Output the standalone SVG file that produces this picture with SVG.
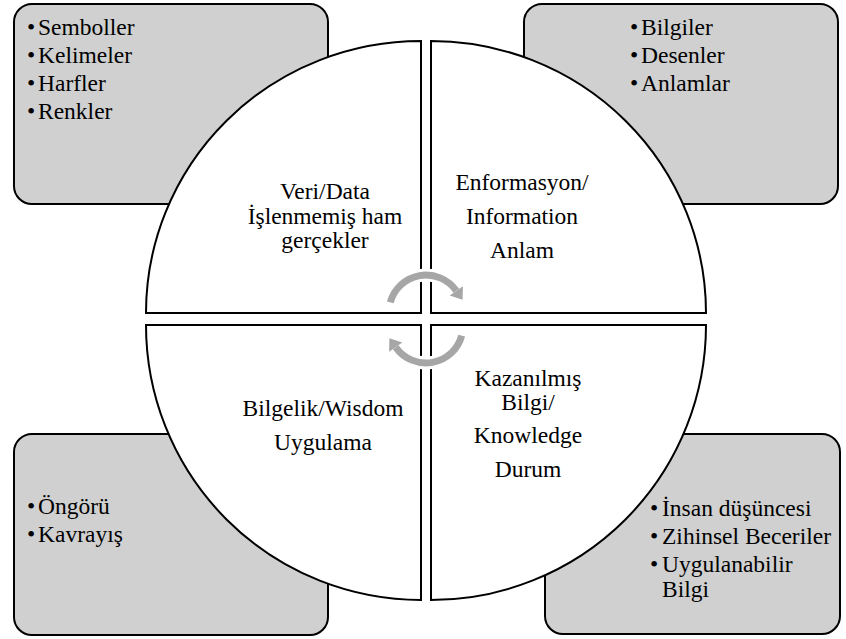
<svg xmlns="http://www.w3.org/2000/svg" width="846" height="639" viewBox="0 0 846 639" font-family="'Liberation Serif','Times New Roman',serif">
<style>
.box{fill:#d0d0d0;stroke:#000;stroke-width:2}
.quad{fill:#fff;stroke:#000;stroke-width:2}
text{font-family:"Liberation Serif","Times New Roman",serif;font-size:23.5px;fill:#000}
.c{text-anchor:middle}
.halo{fill:none;stroke:#fff;stroke-width:13}
.haloh{fill:#fff;stroke:#fff;stroke-width:4;stroke-linejoin:round}
.arc{fill:none;stroke:#a6a6a6;stroke-width:7}
.head{fill:#a6a6a6}
</style>
<defs>
<g id="cyc">
<path class="halo" d="M390.3,302.4 A37,37 0 0 1 456.3,290.8"/>
<polygon class="haloh" points="462.9,286.2 449.7,295.4 462.6,299.8"/>
<path class="arc" d="M390.3,302.4 A37,37 0 0 1 456.3,290.8"/>
<polygon class="head" points="462.9,286.2 449.7,295.4 462.6,299.8"/>
</g>
</defs>
<g id="box-data">
<rect class="box" x="14" y="4" width="314" height="200" rx="18"/>
<text x="27" y="35">•</text><text x="38" y="35">Semboller</text>
<text x="27" y="63">•</text><text x="38" y="63">Kelimeler</text>
<text x="27" y="91">•</text><text x="38" y="91">Harfler</text>
<text x="27" y="119">•</text><text x="38" y="119">Renkler</text>
</g>
<g id="box-information">
<rect class="box" x="524" y="4" width="314" height="200" rx="18"/>
<text x="630" y="35">•</text><text x="641" y="35">Bilgiler</text>
<text x="630" y="63">•</text><text x="641" y="63">Desenler</text>
<text x="630" y="91">•</text><text x="641" y="91">Anlamlar</text>
</g>
<g id="box-wisdom">
<rect class="box" x="14" y="434" width="314" height="201" rx="18"/>
<text x="27" y="514">•</text><text x="38" y="514">Öngörü</text>
<text x="27" y="542">•</text><text x="38" y="542">Kavrayış</text>
</g>
<g id="box-knowledge">
<rect class="box" x="545" y="434" width="295" height="200" rx="18"/>
<text x="650" y="516">•</text><text x="662" y="516">İnsan düşüncesi</text>
<text x="650" y="544">•</text><text x="662" y="544">Zihinsel Beceriler</text>
<text x="650" y="572">•</text><text x="662" y="572">Uygulanabilir</text>
<text x="662" y="597">Bilgi</text>
</g>
<g id="q-data">
<path class="quad" d="M421,41 L421,313 L146,313 A275,272 0 0 1 421,41 Z"/>
<text class="c" x="325" y="199">Veri/Data</text>
<text class="c" x="325" y="224">İşlenmemiş ham</text>
<text class="c" x="325" y="248">gerçekler</text>
</g>
<g id="q-information">
<path class="quad" d="M431,41 A275,272 0 0 1 706,313 L431,313 Z"/>
<text class="c" x="522" y="190">Enformasyon/</text>
<text class="c" x="522" y="224">Information</text>
<text class="c" x="522" y="258">Anlam</text>
</g>
<g id="q-wisdom">
<path class="quad" d="M146,325 L421,325 L421,600 A275,275 0 0 1 146,325 Z"/>
<text class="c" x="323" y="416">Bilgelik/Wisdom</text>
<text class="c" x="323" y="450">Uygulama</text>
</g>
<g id="q-knowledge">
<path class="quad" d="M431,325 L706,325 A275,275 0 0 1 431,600 Z"/>
<text class="c" x="528" y="386">Kazanılmış</text>
<text class="c" x="528" y="410">Bilgi/</text>
<text class="c" x="528" y="443">Knowledge</text>
<text class="c" x="528" y="477">Durum</text>
</g>
<g id="connectors">
<use href="#cyc"/>
<use href="#cyc" transform="rotate(180 426 319)"/>
</g>
</svg>
